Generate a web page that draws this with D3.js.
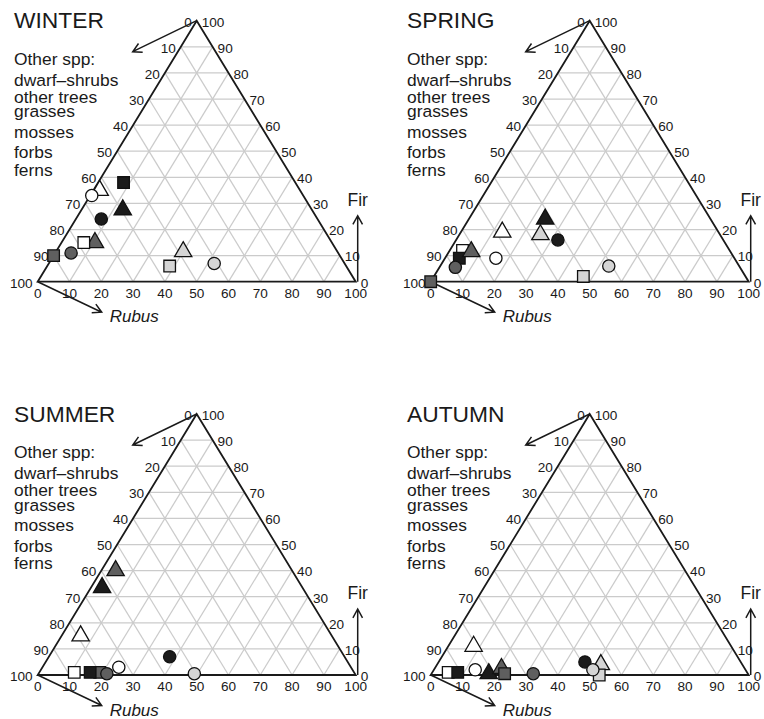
<!DOCTYPE html>
<html>
<head>
<meta charset="utf-8" />
<title>Seasonal composition: Rubus, Fir and other spp</title>
<script src="https://cdn.jsdelivr.net/npm/d3@7"></script>
<style>
  body { margin: 0; background: #fff; }
  svg text { font-family: "Liberation Sans", Arial, Helvetica, sans-serif; fill: #1a1a1a; }
  .tick { font-size: 13.6px; }
  .grid line { stroke: #cbcbcb; stroke-width: 1.25; }
</style>
</head>
<body>
<script>
// seasons, one ternary panel each
var seasons = ["WINTER", "SPRING", "SUMMER", "AUTUMN"];
var otherSpp = ["Other spp:", "dwarf\u2013shrubs", "other trees", "grasses", "mosses", "forbs", "ferns"];
var tickValues = [0, 10, 20, 30, 40, 50, 60, 70, 80, 90, 100];

// points: [shade, shape, Rubus %, Fir %]  (other spp = 100 - Rubus - Fir)
// listed in drawing order
var winter = [
  ["white", "triangle", 2, 35],
  ["black", "triangle", 13, 27.5],
  ["dark", "triangle", 10.5, 15],
  ["light", "triangle", 40, 11.5],
  ["black", "square", 8, 38],
  ["white", "square", 7, 15],
  ["dark", "square", 0, 10],
  ["light", "square", 38.5, 6],
  ["white", "circle", 0.5, 33],
  ["black", "circle", 8, 24],
  ["dark", "circle", 5, 11],
  ["light", "circle", 52, 7]
];
var spring = [
  ["white", "square", 4, 12],
  ["black", "square", 4.5, 9],
  ["dark", "square", 0, 0],
  ["light", "square", 47, 2],
  ["black", "triangle", 24, 24],
  ["white", "triangle", 13, 19],
  ["light", "triangle", 25.5, 18],
  ["dark", "triangle", 7, 11.5],
  ["white", "circle", 16, 9],
  ["dark", "circle", 5, 5.5],
  ["black", "circle", 32, 16],
  ["light", "circle", 53, 6]
];
var summer = [
  ["white", "square", 11, 1],
  ["dark", "square", 19, 1],
  ["black", "square", 16, 1],
  ["dark", "circle", 21.5, 0.5],
  ["white", "circle", 24, 3],
  ["black", "circle", 38, 7],
  ["light", "circle", 49, 0.5],
  ["dark", "triangle", 4.5, 40],
  ["black", "triangle", 3.5, 33.5],
  ["white", "triangle", 6, 15]
];
var autumn = [
  ["white", "square", 5, 1],
  ["black", "square", 8, 1],
  ["black", "triangle", 18, 0.5],
  ["dark", "triangle", 21, 2.5],
  ["dark", "square", 23, 0.5],
  ["white", "triangle", 8, 11],
  ["light", "triangle", 51.5, 4],
  ["light", "square", 53, 0],
  ["white", "circle", 13, 2],
  ["dark", "circle", 32, 0.5],
  ["black", "circle", 46, 5],
  ["light", "circle", 50, 2]
];
var seasonData = [winter, spring, summer, autumn];

var shadeFill = { white: "#ffffff", black: "#1b1b1b", dark: "#5f5f5f", light: "#d5d5d5" };
var shapeType = { circle: d3.symbolCircle, square: d3.symbolSquare, triangle: d3.symbolTriangle };
var shapeSize = { circle: 118, square: 134, triangle: 130 };

var W = 318, H = 261;   // triangle base and height in px
var lineDrop = [216.7, 196, 179, 164.4, 144, 123.4, 106];

var svg = d3.select("body").append("svg")
    .attr("width", 764)
    .attr("height", 719);

function arrow(g, x1, y1, x2, y2) {
  var a = Math.atan2(y2 - y1, x2 - x1), len = 10, spread = 0.5;
  var d = "M" + x1 + "," + y1 + "L" + x2 + "," + y2 +
    "M" + (x2 - len * Math.cos(a - spread)) + "," + (y2 - len * Math.sin(a - spread)) +
    "L" + x2 + "," + y2 +
    "L" + (x2 - len * Math.cos(a + spread)) + "," + (y2 - len * Math.sin(a + spread));
  g.append("path").attr("d", d)
    .attr("fill", "none").attr("stroke", "#1a1a1a").attr("stroke-width", 1.5);
}

seasons.forEach(function(name, i) {
  var x0 = 37.7 + (i % 2) * 393,
      y0 = 281.7 + Math.floor(i / 2) * 393.3;

  var x = d3.scaleLinear().domain([0, 100]).range([x0, x0 + W]);
  var y = d3.scaleLinear().domain([0, 100]).range([y0, y0 - H]);
  // rubus r, fir f -> pixel
  function pt(r, f) { return [x(r + f / 2), y(f)]; }

  var g = svg.append("g");

  // grid
  var grid = g.append("g").attr("class", "grid");
  d3.range(10, 100, 10).forEach(function(k) {
    [[pt(0, k), pt(100 - k, k)],
     [pt(k, 0), pt(k, 100 - k)],
     [pt(100 - k, 0), pt(0, 100 - k)]].forEach(function(s) {
      grid.append("line")
        .attr("x1", s[0][0]).attr("y1", s[0][1])
        .attr("x2", s[1][0]).attr("y2", s[1][1]);
    });
  });

  // outline
  var c = [pt(0, 0), pt(100, 0), pt(0, 100)];
  g.append("path")
    .attr("d", "M" + c.join("L") + "Z")
    .attr("fill", "none").attr("stroke", "#1a1a1a").attr("stroke-width", 1.8)
    .attr("stroke-linejoin", "miter");

  // tick labels
  tickValues.forEach(function(k) {
    var b = pt(k, 0), r = pt(100 - k, k), l = pt(0, 100 - k);
    g.append("text").attr("class", "tick")
      .attr("x", b[0]).attr("y", b[1] + 15.8)
      .attr("text-anchor", "middle").text(k);
    g.append("text").attr("class", "tick")
      .attr("x", r[0] + 5).attr("y", r[1] + 5.8)
      .attr("text-anchor", "start").text(k);
    g.append("text").attr("class", "tick")
      .attr("x", l[0] - 5).attr("y", l[1] + 5.8)
      .attr("text-anchor", "end").text(k);
  });

  // axis direction arrows
  var apex = pt(0, 100), bl = pt(0, 0), br = pt(100, 0);
  arrow(g, apex[0], apex[1], apex[0] - 64, apex[1] + 31);
  arrow(g, bl[0], bl[1], bl[0] + 64, bl[1] + 30.5);
  arrow(g, br[0] + 2, br[1], br[0] + 2, br[1] - 66);

  g.append("text")
    .attr("x", br[0] + 2).attr("y", br[1] - 76)
    .attr("text-anchor", "middle")
    .style("font-size", "17.5px")
    .text("Fir");
  g.append("text")
    .attr("x", bl[0] + 72).attr("y", bl[1] + 40.5)
    .style("font-size", "17px").style("font-style", "italic")
    .text("Rubus");

  // title and other spp list
  g.append("text")
    .attr("x", x0 - 23.7).attr("y", y0 - 253.4)
    .style("font-size", "22.8px")
    .text(name);
  otherSpp.forEach(function(t, j) {
    g.append("text")
      .attr("x", x0 - 23.7).attr("y", y0 - lineDrop[j])
      .style("font-size", "17.4px")
      .text(t);
  });

  // points
  g.selectAll("path.pt")
    .data(seasonData[i])
    .enter()
    .append("path")
      .attr("class", "pt")
      .attr("transform", function(d) { var p = pt(d[2], d[3]); return "translate(" + p[0] + "," + p[1] + ")"; })
      .attr("d", function(d) { return d3.symbol().type(shapeType[d[1]]).size(shapeSize[d[1]])(); })
      .attr("fill", function(d) { return shadeFill[d[0]]; })
      .attr("stroke", "#111")
      .attr("stroke-width", 1.3);
});
</script>
</body>
</html>
